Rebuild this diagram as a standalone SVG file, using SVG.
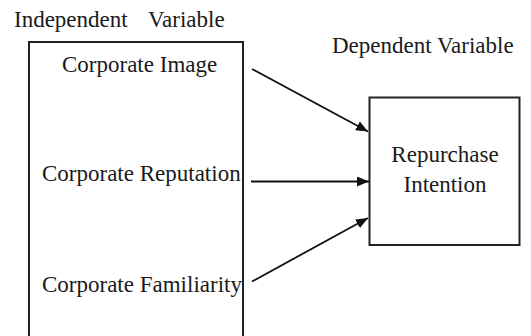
<svg xmlns="http://www.w3.org/2000/svg" width="531" height="336" viewBox="0 0 531 336">
<style>
text{font-family:"Liberation Serif","Times New Roman",serif;font-size:23px;fill:#1a1a1a}
.box{fill:#fff;stroke:#222;stroke-width:2}
.conn{stroke:#111;stroke-width:1.8;fill:none;marker-end:url(#ah)}
</style>
<defs>
<marker id="ah" viewBox="0 0 12 10" refX="12" refY="5" markerWidth="12" markerHeight="10" markerUnits="userSpaceOnUse" orient="auto">
<path d="M0,0 L12,5 L0,10 Z" fill="#111"/>
</marker>
</defs>
<rect width="531" height="336" fill="#fff"/>
<g id="labels">
<text x="14" y="27">Independent</text>
<text x="148" y="27">Variable</text>
<text x="332" y="53">Dependent Variable</text>
</g>
<g id="independent">
<path class="box" d="M29,345 V42 H243 V345"/>
<text x="62" y="72">Corporate Image</text>
<text x="42" y="181">Corporate Reputation</text>
<text x="42" y="292">Corporate Familiarity</text>
</g>
<g id="dependent">
<rect class="box" x="369.5" y="97.5" width="150" height="147.5"/>
<text x="445" y="162" text-anchor="middle">Repurchase</text>
<text x="445" y="192" text-anchor="middle">Intention</text>
</g>
<g id="connectors">
<line class="conn" x1="252" y1="69" x2="368" y2="131.5"/>
<line class="conn" x1="251" y1="181.5" x2="369" y2="181.5"/>
<line class="conn" x1="252" y1="281.5" x2="368" y2="218"/>
</g>
</svg>
